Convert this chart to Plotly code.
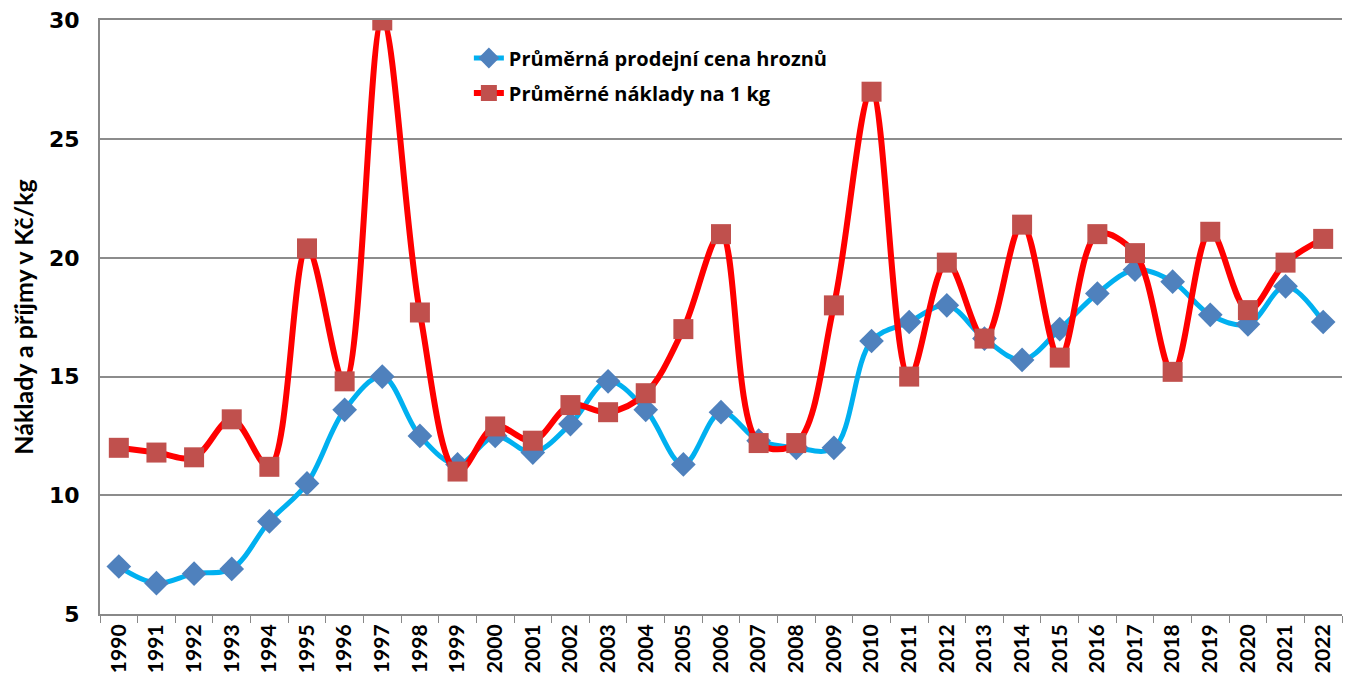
import plotly.graph_objects as go

years=[str(y) for y in range(1990,2023)]
cena=[7.0,6.3,6.7,6.9,8.9,10.5,13.6,15.0,12.5,11.3,12.5,11.8,13.0,14.8,13.6,11.3,13.5,12.3,12.0,12.0,
      16.5,17.3,18.0,16.6,15.7,17.0,18.5,19.5,19.0,17.6,17.2,18.8,17.3]
naklady=[12.0,11.8,11.6,13.2,11.2,20.4,14.8,30.0,17.7,11.0,12.9,12.3,13.8,13.5,14.3,17.0,21.0,12.2,12.2,18.0,
         27.0,15.0,19.8,16.6,21.4,15.8,21.0,20.2,15.2,21.1,17.8,19.8,20.8]
yticks=[5,10,15,20,25,30]

fig=go.Figure()
fig.add_trace(go.Scatter(name='<b>Průměrná prodejní cena hroznů</b>',
                         x=years,y=cena,mode='lines+markers',
                         line={'color':'#00B0F0','width':5,'shape':'spline'},
                         marker={'symbol':'diamond','color':'#4F81BD','size':19},
                         legend='legend'))
fig.add_trace(go.Scatter(name='<b>Průměrné náklady na 1 kg</b>',
                         x=years,y=naklady,mode='lines+markers',
                         line={'color':'#FF0000','width':6,'shape':'spline'},
                         marker={'symbol':'square','color':'#C0504D','size':20},
                         legend='legend2'))
leg={'xanchor':'left','yanchor':'middle',
     'font':{'family':'Open Sans','size':20,'color':'black'},
     'bgcolor':'rgba(0,0,0,0)'}
fig.update_layout(
    width=1343,height=674,
    paper_bgcolor='white',plot_bgcolor='white',
    margin={'l':92,'r':9,'t':12,'b':68},
    showlegend=True,
    legend=dict(leg,x=0.297,y=0.936),
    legend2=dict(leg,x=0.297,y=0.877),
    xaxis={'type':'category','range':[-0.5,32.5],'automargin':False,
           'tickangle':-90,'tickfont':{'family':'Lato','size':21,'color':'black','weight':'bold'},
           'tickson':'boundaries','ticks':'outside','ticklen':7,'tickcolor':'#888',
           'showline':True,'linecolor':'#888','linewidth':2,'mirror':True,'showgrid':False},
    yaxis={'range':[5,30.02],'tickmode':'array','tickvals':yticks,'automargin':False,
           'tickfont':{'family':'DejaVu Sans','size':22,'color':'black','weight':'bold'},
           'ticklabelstandoff':14,
           'showgrid':True,'gridcolor':'#8c8c8c','gridwidth':1.5,
           'showline':True,'linecolor':'#888','linewidth':2,'ticks':'','zeroline':False,
           'title':{'text':'<b>Náklady a příjmy v Kč/kg</b>','font':{'family':'Lato','size':25,'color':'black'},'standoff':8}},
)
fig.write_html('out.html')
